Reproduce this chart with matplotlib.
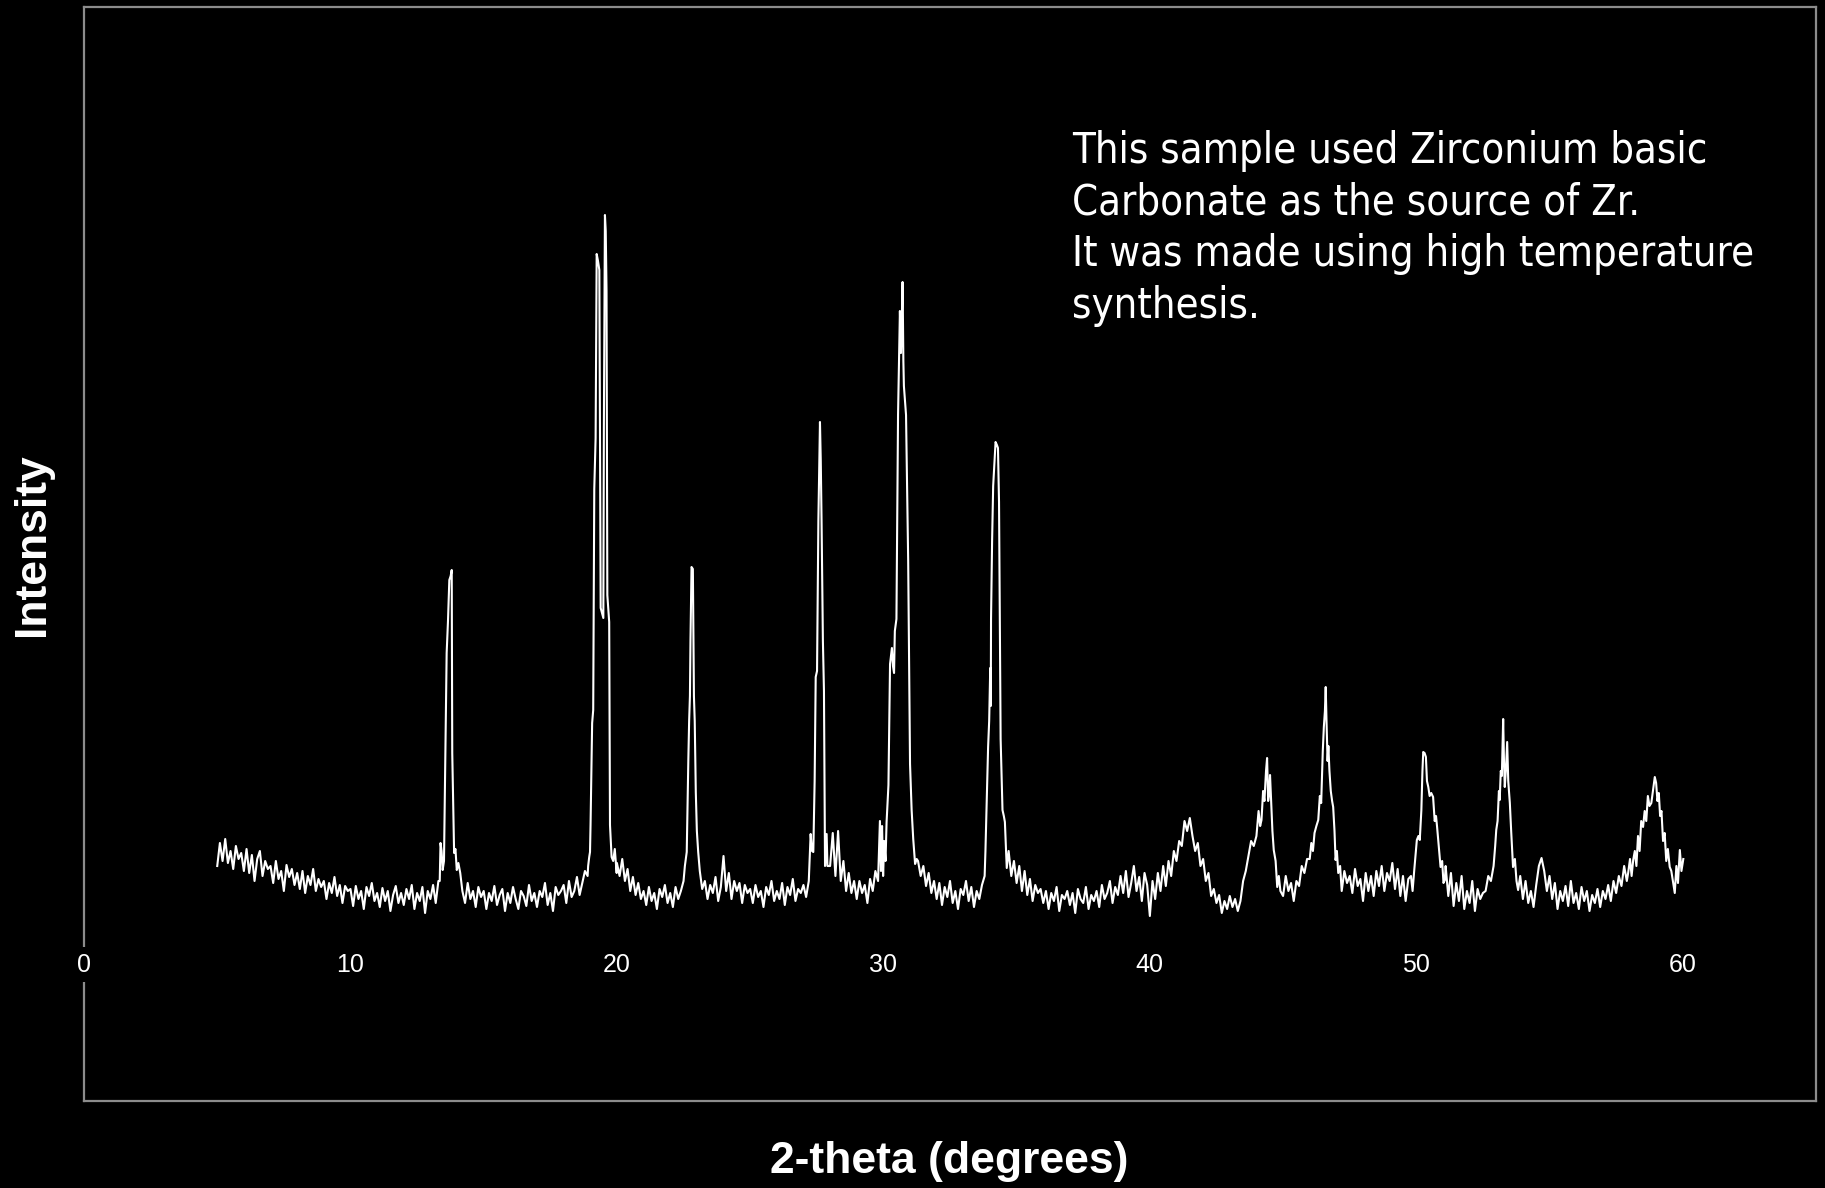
import numpy as np
import matplotlib.pyplot as plt

# Bakgrund (brus) från 5.0 till 60.0 grader, steg 0.1, en rad per grad
bg_start = 5.0
bg_step = 0.1
bg_counts = [
    55, 78, 60, 82, 58, 70, 52, 75, 62, 68,
    50, 72, 48, 66, 40, 62, 70, 45, 60, 52,
    55, 38, 60, 42, 50, 30, 56, 44, 52, 36,
    48, 32, 50, 28, 45, 36, 52, 30, 42, 34,
    40, 22, 38, 28, 44, 25, 36, 18, 35, 30,
    32, 15, 35, 22, 30, 12, 34, 25, 38, 20,
    28, 14, 33, 20, 30, 10, 26, 35, 18, 28,
    16, 32, 22, 36, 12, 28, 20, 34, 8, 30,
    22, 36, 18, 40, 25, 30, 45, 60, 58, 65,
    50, 48, 30, 18, 38, 22, 30, 14, 34, 24,
    30, 12, 28, 20, 35, 16, 26, 32, 10, 28,
    18, 34, 22, 12, 30, 25, 15, 36, 20, 28,
    14, 30, 24, 38, 16, 28, 10, 34, 26, 30,
    36, 18, 40, 24, 30, 44, 26, 38, 50, 45,
    70, 200, 420, 640, 320, 690, 300, 90, 62, 55,
    58, 45, 62, 40, 52, 30, 44, 26, 38, 22,
    30, 16, 34, 20, 28, 12, 32, 24, 36, 18,
    28, 14, 34, 22, 30, 40, 55, 150, 350, 200,
    70, 45, 32, 40, 22, 36, 28, 44, 20, 34,
    65, 30, 48, 22, 40, 30, 38, 18, 36, 28,
    32, 18, 36, 24, 30, 14, 34, 26, 40, 20,
    30, 22, 38, 16, 34, 26, 42, 20, 32, 28,
    36, 24, 40, 30, 45, 38, 490, 300, 60, 55,
    55, 88, 45, 90, 40, 60, 30, 48, 28, 40,
    22, 40, 28, 36, 18, 42, 30, 50, 40, 70,
    150, 260, 300, 550, 630, 520, 350, 120, 70, 60,
    100, 80, 60, 60, 45, 55, 35, 48, 28, 40,
    22, 38, 16, 34, 24, 40, 18, 30, 12, 32,
    26, 40, 20, 34, 14, 30, 22, 36, 70, 170,
    300, 470, 430, 110, 90, 60, 52, 70, 45, 60,
    38, 55, 30, 50, 26, 42, 20, 36, 28, 32,
    18, 30, 12, 28, 20, 34, 10, 26, 22, 30,
    16, 28, 8, 32, 22, 18, 34, 12, 26, 20,
    30, 14, 36, 22, 28, 40, 18, 34, 26, 45,
    28, 50, 24, 38, 55, 30, 44, 20, 48, 36,
    5, 40, 22, 48, 30, 55, 35, 60, 45, 70,
    60, 80, 75, 100, 90, 103, 85, 70, 78, 55,
    62, 40, 48, 25, 32, 18, 26, 8, 20, 12,
    25, 14, 22, 10, 20, 40, 50, 65, 80, 75,
    100, 95, 110, 140, 163, 146, 120, 70, 40, 30,
    25, 45, 30, 38, 20, 40, 35, 55, 48, 62,
    70, 85, 95, 110, 120, 190, 234, 160, 120, 60,
    48, 55, 30, 50, 38, 45, 28, 52, 35, 42,
    20, 48, 30, 45, 25, 50, 35, 55, 30, 48,
    40, 58, 32, 52, 25, 45, 20, 42, 50, 30,
    81, 85, 169, 164, 134, 125, 124, 94, 54, 60,
    41, 55, 25, 48, 15, 38, 20, 45, 12, 30,
    18, 40, 10, 32, 22, 28, 30, 45, 40, 60,
    91, 121, 202, 134, 179, 118, 54, 40, 31, 45,
    22, 40, 18, 30, 14, 36, 55, 63, 50, 30,
    45, 22, 38, 12, 30, 20, 35, 15, 40, 18,
    28, 12, 34, 20, 30, 10, 26, 18, 32, 14,
    30, 22, 36, 20, 40, 28, 45, 35, 55, 40,
    62, 61, 70, 85, 100, 94, 110, 125, 118, 130,
    144, 128, 110, 88, 60, 54, 40, 28, 55, 71,
    62,
]

# Toppar, avlästa punkt för punkt
p1_x = [13.35, 13.38, 13.42, 13.46, 13.51, 13.55, 13.58, 13.61, 13.66, 13.71,
        13.76, 13.80, 13.82, 13.86, 13.89, 13.94, 13.99, 14.05, 14.12]
p1_y = [40, 78, 70, 51, 60, 144, 200, 268, 300, 341,
        345, 351, 168, 110, 68, 72, 51, 58, 48]

p2_x = [18.92, 18.96, 18.99, 19.01, 19.04, 19.07, 19.11, 19.15, 19.20, 19.24,
        19.29, 19.34, 19.36, 19.39, 19.44, 19.49, 19.51, 19.55, 19.58, 19.61,
        19.64, 19.68, 19.71, 19.74, 19.80, 19.86, 19.92, 19.99]
p2_y = [55, 64, 69, 96, 150, 198, 211, 432, 483, 667,
        660, 651, 520, 313, 308, 303, 492, 706, 690, 630,
        326, 310, 299, 96, 64, 60, 72, 48]

p3_x = [22.55, 22.62, 22.68, 22.71, 22.74, 22.76, 22.80, 22.85, 22.89, 22.92,
        22.96, 23.00, 23.05, 23.11]
p3_y = [55, 69, 161, 200, 225, 280, 354, 352, 225, 200,
        129, 90, 69, 50]

p4_x = [27.27, 27.32, 27.37, 27.42, 27.46, 27.51, 27.56, 27.60, 27.62, 27.65,
        27.68, 27.73, 27.77, 27.81, 27.87]
p4_y = [87, 70, 69, 140, 244, 250, 400, 470, 499, 460,
        400, 280, 230, 55, 87]

p5_x = [29.87, 29.91, 29.95, 29.99, 30.03, 30.08, 30.12, 30.19, 30.25, 30.32,
        30.36, 30.40, 30.43, 30.49, 30.55, 30.62, 30.66, 30.69, 30.72, 30.75,
        30.77, 30.81, 30.85, 30.89, 30.93, 31.00, 31.06, 31.12, 31.19, 31.25]
p5_y = [100, 50, 95, 45, 80, 60, 99, 136, 257, 273,
        255, 248, 290, 302, 506, 610, 568, 600, 639, 560,
        535, 520, 506, 430, 361, 157, 111, 82, 57, 62]

p6_x = [33.80, 33.83, 33.88, 33.93, 33.97, 34.01, 34.03, 34.04, 34.08, 34.12,
        34.17, 34.21, 34.26, 34.30, 34.34, 34.37, 34.40, 34.44, 34.47, 34.52,
        34.56, 34.63]
p6_y = [45, 70, 120, 174, 200, 253, 215, 302, 380, 435,
        460, 479, 476, 473, 419, 300, 182, 140, 111, 105,
        99, 53]

p7_x = [44.00, 44.08, 44.14, 44.19, 44.25, 44.30, 44.36, 44.40, 44.44, 44.48,
        44.51, 44.55, 44.60, 44.65, 44.72, 44.78, 44.84]
p7_y = [85, 110, 95, 101, 130, 120, 150, 163, 120, 128,
        146, 120, 90, 71, 60, 34, 45]

p8_x = [46.00, 46.06, 46.12, 46.18, 46.25, 46.32, 46.38, 46.43, 46.49, 46.53,
        46.57, 46.60, 46.63, 46.67, 46.70, 46.74, 46.79, 46.84, 46.88, 46.93,
        46.97, 47.02, 47.07, 47.14]
p8_y = [62, 78, 70, 88, 95, 101, 125, 118, 170, 194,
        210, 234, 200, 160, 175, 150, 130, 120, 114, 90,
        61, 70, 48, 55]

p9_x = [49.80, 49.86, 49.92, 49.97, 50.02, 50.08, 50.13, 50.19, 50.23, 50.26,
        50.31, 50.36, 50.40, 50.45, 50.50, 50.56, 50.63, 50.69, 50.74, 50.78,
        50.84, 50.91, 50.97, 51.02, 51.07]
p9_y = [45, 30, 50, 65, 81, 85, 81, 111, 150, 169,
        168, 164, 140, 134, 125, 128, 124, 100, 105, 94,
        75, 54, 60, 38, 41]

p10_x = [52.90, 52.96, 53.00, 53.05, 53.10, 53.13, 53.17, 53.21, 53.26, 53.29,
         53.32, 53.36, 53.41, 53.45, 53.51, 53.56, 53.63, 53.70, 53.76, 53.82]
p10_y = [55, 75, 91, 100, 130, 121, 150, 145, 202, 160,
         134, 150, 179, 140, 118, 90, 54, 62, 40, 31]

p11_x = [57.95, 58.02, 58.08, 58.14, 58.20, 58.26, 58.32, 58.38, 58.44, 58.51,
         58.57, 58.63, 58.69, 58.75, 58.82, 58.88, 58.95, 59.00, 59.05, 59.10,
         59.15, 59.20, 59.26, 59.32, 59.38, 59.44, 59.51, 59.57, 59.63, 59.70,
         59.76, 59.82, 59.89, 59.95, 60.02]
p11_y = [48, 62, 45, 61, 70, 55, 85, 70, 100, 94,
         110, 100, 125, 115, 118, 130, 144, 138, 120, 128,
         105, 110, 80, 88, 60, 72, 54, 50, 40, 28,
         55, 38, 71, 50, 62]

x_ticks = [0, 10, 20, 30, 40, 50, 60]
x_label = '2-theta (degrees)'
y_label = 'Intensity'
note = ('This sample used Zirconium basic\n'
        'Carbonate as the source of Zr.\n'
        'It was made using high temperature\n'
        'synthesis.')

peaks = [(p1_x, p1_y), (p2_x, p2_y), (p3_x, p3_y), (p4_x, p4_y), (p5_x, p5_y),
         (p6_x, p6_y), (p7_x, p7_y), (p8_x, p8_y), (p9_x, p9_y), (p10_x, p10_y),
         (p11_x, p11_y)]

# Slå ihop bakgrund och toppar: bakgrundspunkter inom en topp ersätts
two_theta = bg_start + bg_step * np.arange(len(bg_counts))
counts = np.array(bg_counts, dtype=float)
keep = np.ones(len(two_theta), dtype=bool)
for px, py in peaks:
    keep &= ~((two_theta >= min(px) - 1e-9) & (two_theta <= max(px) + 1e-9))

x_all = np.concatenate([two_theta[keep]] + [np.array(px, float) for px, py in peaks])
y_all = np.concatenate([counts[keep]] + [np.array(py, float) for px, py in peaks])
order = np.argsort(x_all)
x_all = x_all[order]
y_all = y_all[order]

W, H = 1825, 1188
fig = plt.figure(figsize=(W / 100, H / 100), dpi=100, facecolor='black')
ax = fig.add_axes([84 / W, 1 - 1101 / H, (1816 - 84) / W, (1101 - 7) / H])
ax.set_facecolor('black')

ax.plot(x_all, y_all, color='white', lw=1.5)

ax.set_xlim(0, 65)
ax.set_ylim(-180, 914)
ax.set_xticks([])
ax.set_yticks([])
for s in ax.spines.values():
    s.set_color('#8c8c8c')
    s.set_linewidth(1.6)

# Axeltexter vid y = 0, med svart bakgrund som bryter ramen
for t in x_ticks:
    ax.annotate(str(t), xy=(t, 0), xytext=(0, -31.5), textcoords='offset points',
                ha='center', va='center', color='white', fontsize=18,
                family='Liberation Sans', annotation_clip=False,
                bbox=dict(facecolor='black', edgecolor='none', pad=4))

fig.text(949 / W, 1 - 1162 / H, x_label, ha='center', va='center',
         fontsize=32, fontweight='bold', family='Liberation Sans', color='white')
fig.text(33 / W, 1 - 545 / H, y_label, ha='center', va='center', rotation=90,
         fontsize=32, fontweight='bold', family='Liberation Sans', color='white')

ax.text(0.5704, 0.888, note, transform=ax.transAxes, ha='left', va='top',
        color='white', fontsize=30, family='DejaVu Sans', fontstretch='condensed',
        linespacing=1.30)

fig.savefig('out.png', dpi=100, facecolor='black')
